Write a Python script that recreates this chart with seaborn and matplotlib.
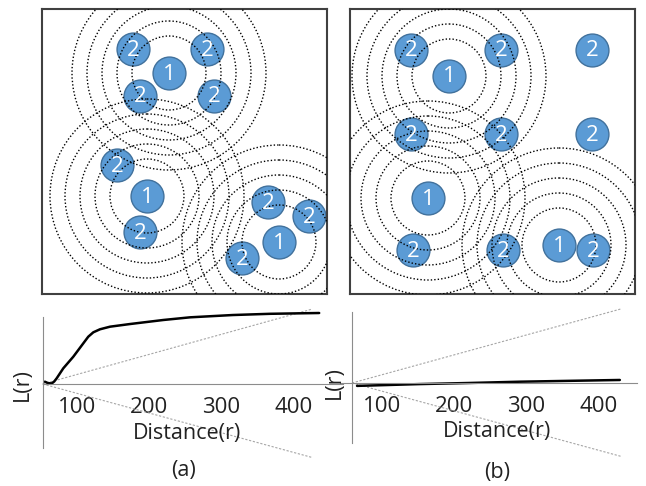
import matplotlib
matplotlib.use('Agg')
import matplotlib.pyplot as plt
import seaborn as sns
from matplotlib.patches import Circle

sns.set_style("white")
plt.rcParams['font.family'] = ['Open Sans', 'DejaVu Sans']

# point patterns, in pixels inside each 285x285 box (y grows downward)
a_one_x = [127, 105, 237]
a_one_y = [64, 187, 233]
a_two_x = [91, 165, 98, 172, 75, 98, 226, 267, 200]
a_two_y = [40, 40, 87, 87, 156, 223, 193, 207, 249]

b_one_x = [99, 78, 209]
b_one_y = [67, 189, 236]
b_two_x = [61, 151, 242, 61, 151, 242, 63, 153, 243]
b_two_y = [41, 41, 41, 125, 125, 125, 241, 241, 241]

ring_radii = [37, 52, 67, 82, 97]

# L(r) curves
r_a = [55, 59, 64.5, 68, 71.4, 80.6, 94.5, 108.4, 115.3, 122.3, 131.6, 145.5,
       173.3, 219.5, 256.6, 316, 368, 436]
L_a = [3.2, 1.4, 0.7, 3.5, 7.9, 21.8, 37.9, 56.5, 65.7, 71.8, 76, 79.6,
       83.3, 88.9, 92.6, 95.8, 97.5, 98.6]
env_a_r = [52, 426]
env_a_hi = [0, 104]
env_a_lo = [0, -102]

r_b = [65, 100, 152, 220, 291, 360, 430]
L_b = [-4, -3, -1.5, 0, 1.8, 3, 4.2]
env_b_r = [58, 432]
env_b_hi = [0, 103]
env_b_lo = [0, -102]

dist_ticks = [100, 200, 300, 400]

W, H = 646, 486
PX = 0.72  # pixels per unit of r in the lower plots


def rect(x0, y0, x1, y1):
    return [x0 / W, 1 - y1 / H, (x1 - x0) / W, (y1 - y0) / H]


def draw_pattern(ax, one_x, one_y, two_x, two_y):
    for s in ax.spines.values():
        s.set_color('#404040')
        s.set_linewidth(1.5)
    xs = one_x + two_x
    ys = one_y + two_y
    sns.scatterplot(x=xs, y=ys, s=560, color='#5B9BD5', edgecolor='#41719C',
                    linewidth=1, alpha=1, ax=ax, zorder=2, legend=False)
    ax.set_xlim(0, 285)
    ax.set_ylim(285, 0)
    ax.set_xticks([])
    ax.set_yticks([])
    for x, y in zip(one_x, one_y):
        for r in ring_radii:
            ax.add_patch(Circle((x, y), r, fill=False, ec='black', lw=1.0,
                                ls=(0, (1, 1.5)), zorder=3))
    labels = ['1'] * len(one_x) + ['2'] * len(two_x)
    for x, y, t in zip(xs, ys, labels):
        ax.text(x, y + 1, t, color='white', fontsize=16, ha='center',
                va='center', zorder=4)


def draw_curve(ax, r, L, env_r, env_hi, env_lo, r0, x_left_px, origin_px,
               axis_py, right_px, axis_start_px, axis_end_px, ytop_py, ybot_py):
    r_lo = r0 - (origin_px - x_left_px) / PX
    r_hi = r0 + (right_px - origin_px) / PX
    sns.lineplot(x=env_r, y=env_hi, ax=ax, color='#a6a6a6', lw=0.8,
                 ls=(0, (2, 1.5)), clip_on=False)
    sns.lineplot(x=env_r, y=env_lo, ax=ax, color='#a6a6a6', lw=0.8,
                 ls=(0, (2, 1.5)), clip_on=False)
    sns.lineplot(x=r, y=L, ax=ax, color='black', lw=1.8, clip_on=False,
                 sort=False)
    ax.set_xlim(r_lo, r_hi)
    ax.set_ylim((axis_py - 465) / PX, (axis_py - 300) / PX)
    ax.spines['top'].set_visible(False)
    ax.spines['right'].set_visible(False)
    ax.spines['left'].set_position(('data', r0))
    ax.spines['bottom'].set_position(('data', 0))
    ax.spines['left'].set_bounds((axis_py - ybot_py) / PX, (axis_py - ytop_py) / PX)
    ax.spines['bottom'].set_bounds(r0 + (axis_start_px - origin_px) / PX,
                                   r0 + (axis_end_px - origin_px) / PX)
    for s in ('left', 'bottom'):
        ax.spines[s].set_color('#8c8c8c')
        ax.spines[s].set_linewidth(0.8)
    ax.set_xticks(dist_ticks)
    ax.set_yticks([])
    ax.tick_params(axis='x', length=0, pad=9, labelsize=16, colors='#222222')
    ax.set_xlabel('')
    ax.set_ylabel('')
    ax.patch.set_alpha(0)


fig = plt.figure(figsize=(W / 100, H / 100), dpi=100)

ax1 = fig.add_axes(rect(42, 9, 327, 294))
draw_pattern(ax1, a_one_x, a_one_y, a_two_x, a_two_y)
ax2 = fig.add_axes(rect(350, 9, 635, 294))
draw_pattern(ax2, b_one_x, b_one_y, b_two_x, b_two_y)

ax3 = fig.add_axes(rect(30, 300, 345, 465))
draw_curve(ax3, r_a, L_a, env_a_r, env_a_hi, env_a_lo, 52, 30, 42.7, 384,
           345, 42.7, 343, 317, 448)
ax4 = fig.add_axes(rect(338, 300, 642, 465))
draw_curve(ax4, r_b, L_b, env_b_r, env_b_hi, env_b_lo, 58, 338, 352, 383,
           642, 340, 637, 312, 443)

txt = dict(fontsize=15.5, color='#222222', ha='center', va='center')
fig.text(22 / W, 1 - 385 / H, 'L(r)', rotation=90, **txt)
fig.text(334 / W, 1 - 383 / H, 'L(r)', rotation=90, **txt)
fig.text(187 / W, 1 - 433 / H, 'Distance(r)', **txt)
fig.text(497 / W, 1 - 431 / H, 'Distance(r)', **txt)
fig.text(183 / W, 1 - 470 / H, '(a)', **txt)
fig.text(497 / W, 1 - 472 / H, '(b)', **txt)

fig.savefig('out.png', dpi=100)
